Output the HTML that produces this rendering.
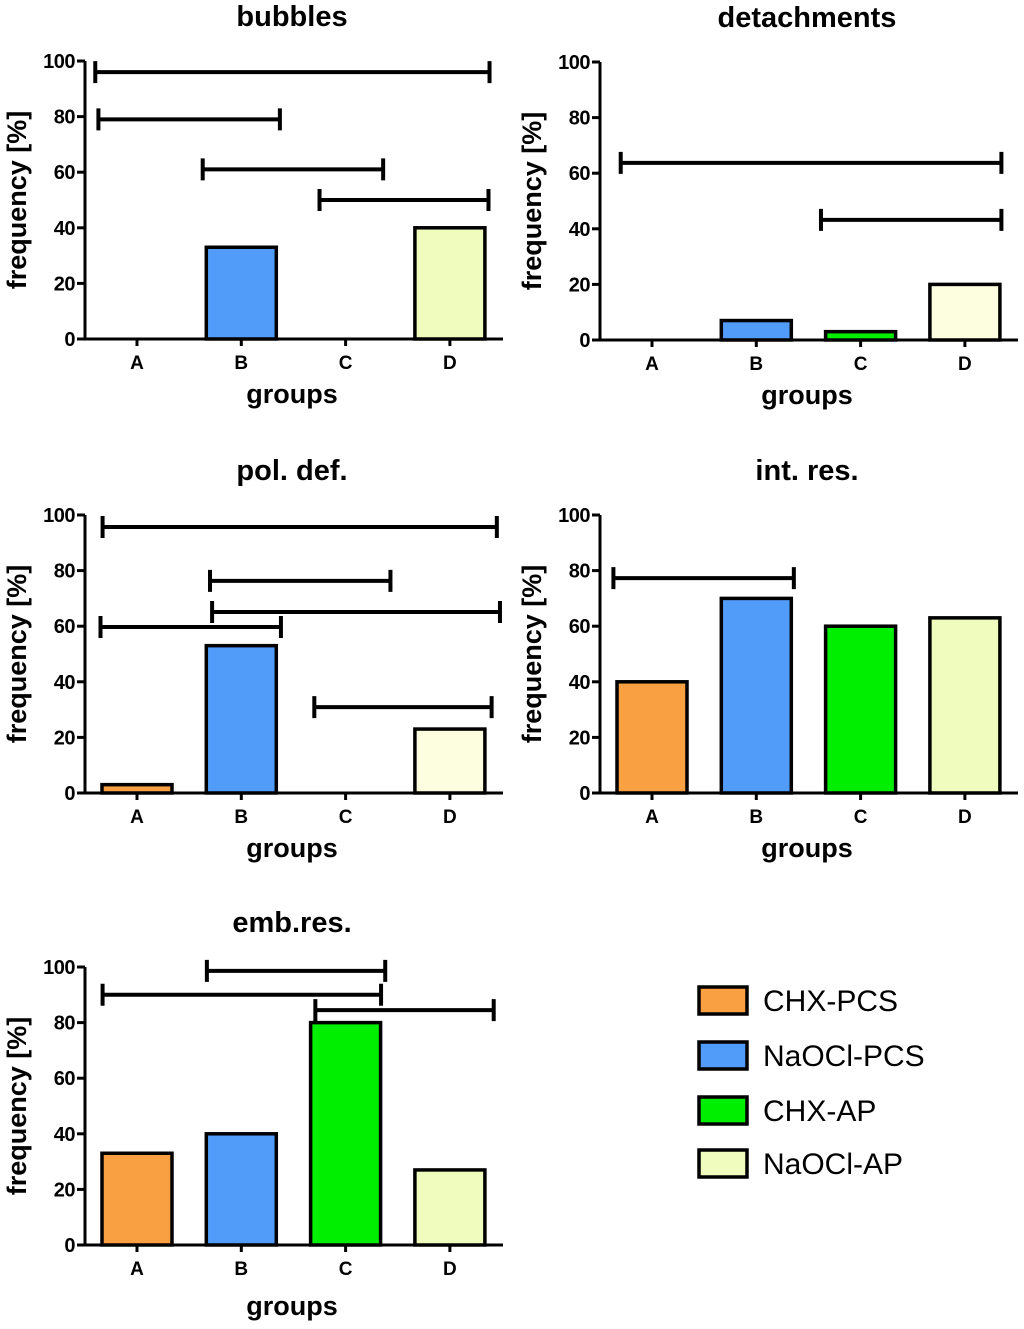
<!DOCTYPE html>
<html><head><meta charset="utf-8"><style>
body{margin:0;background:#fff;}
svg{display:block;font-family:"Liberation Sans",sans-serif;}
</style></head><body>
<svg id="c" width="1024" height="1329" viewBox="0 0 1024 1329"></svg>
<script>
const groups=["A","B","C","D"];
const yTicks=[0,20,40,60,80,100];
const legendLabels=["CHX-PCS","NaOCl-PCS","CHX-AP","NaOCl-AP"];
const bubblesValues=[0,33,0,40];
const detachValues=[0,7,3,20];
const polValues=[3,53,0,23];
const intValues=[40,70,60,63];
const embValues=[33,40,80,27];
// brackets: [y value, start group pos, end group pos]
const bubblesBrackets=[[96,-0.4,3.38],[79,-0.37,1.37],[61,0.63,2.36],[50,1.75,3.37]];
const detachBrackets=[[63.7,-0.3,3.35],[43.2,1.62,3.35]];
const polBrackets=[[95.7,-0.33,3.45],[76.3,0.7,2.43],[65.1,0.72,3.48],[59.7,-0.35,1.38],[30.9,1.7,3.4]];
const intBrackets=[[77.3,-0.37,1.36]];
const embBrackets=[[98.6,0.67,2.38],[90,-0.33,2.34],[84.5,1.71,3.42]];

const NS="http://www.w3.org/2000/svg";
const svg=document.getElementById("c");
function el(tag,attrs,parent,text){const e=document.createElementNS(NS,tag);for(const k in attrs)e.setAttribute(k,attrs[k]);if(text!==undefined)e.textContent=text;(parent||svg).appendChild(e);return e;}
const colors=["#f9a043","#519cf8","#00ee00","#effcbd"];

function panel(name,title,ax,y0,vals,brackets,dColor,xtOff){
  const g=el("g",{});
  
  
  const h=278, xEnd=ax+418;
  const ys=v=>y0-v*h/100;
  const xs=i=>ax+52+i*104.3;
  const t=el("text",{x:ax+207,y:y0-313,"text-anchor":"middle","font-size":29,"font-weight":"bold"},g,title);
  
  
  vals.forEach((v,i)=>{
    if(v<=0)return;
    const r=el("rect",{x:xs(i)-35,y:ys(v),width:70,height:y0-ys(v),fill:i==3&&dColor?dColor:colors[i],stroke:"#000","stroke-width":3.5},g);
    
    
  });
  const ya=el("path",{d:`M${ax},${ys(100)}V${y0}H${xEnd}`,stroke:"#000","stroke-width":3,fill:"none"},g);
  
  
  yTicks.forEach(v=>{
    el("line",{x1:ax-8,x2:ax,y1:ys(v),y2:ys(v),stroke:"#000","stroke-width":3},g);
    const tl=el("text",{x:ax-10,y:ys(v)+7,"text-anchor":"end","font-size":20,"font-weight":"bold","letter-spacing":"-0.5"},g,v);
    
    
  });
  groups.forEach((gname,i)=>{
    el("line",{x1:xs(i),x2:xs(i),y1:y0,y2:y0+7,stroke:"#000","stroke-width":3},g);
    const tl=el("text",{x:xs(i),y:y0+30,"text-anchor":"middle","font-size":19,"font-weight":"bold"},g,gname);
    
    
  });
  const xt=el("text",{x:ax+207,y:y0+64+(xtOff||0),"text-anchor":"middle","font-size":27,"font-weight":"bold"},g,"groups");
  
  
  const yc=(y0+ys(100))/2, yx=ax-59;
  const yt=el("text",{x:yx,y:yc,"text-anchor":"middle","font-size":27,"font-weight":"bold",transform:`rotate(-90 ${yx} ${yc})`},g,"frequency [%]");
  
  
  brackets.forEach(b=>{
    const y=ys(b[0]),x1=xs(b[1]),x2=xs(b[2]);
    const p=el("path",{d:`M${x1},${y-11}V${y+11}M${x1},${y}H${x2}M${x2},${y-11}V${y+11}`,stroke:"#000","stroke-width":4,fill:"none"},g);
    
    
  });
}
panel("bubbles","bubbles",85,339,bubblesValues,bubblesBrackets,null,0);
panel("detachments","detachments",600,340,detachValues,detachBrackets,"#fdfde0",0);
panel("pol-def","pol. def.",85,793,polValues,polBrackets,"#fdfde0",0);
panel("int-res","int. res.",600,793,intValues,intBrackets,null,0);
panel("emb-res","emb.res.",85,1245,embValues,embBrackets,null,6);

const lg=el("g",{});


const ly=[1000,1055,1110,1163];
legendLabels.forEach((l,i)=>{
  const r=el("rect",{x:699,y:ly[i]-13,width:48,height:27,fill:colors[i],stroke:"#000","stroke-width":3.5},lg);
  
  
  const t=el("text",{x:763,y:ly[i]+11,"font-size":30},lg,l);
  
  
});
</script>
</body></html>
